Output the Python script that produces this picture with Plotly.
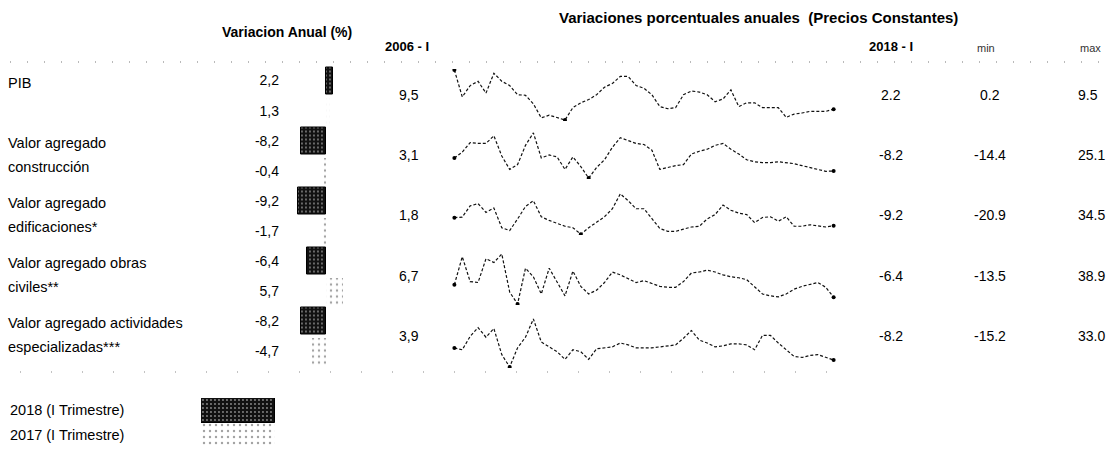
import plotly.graph_objects as go

W, H = 1109, 458


def px(x):
    return x / W


def py(y):
    return 1 - y / H


# ---------------- data ----------------
categories = [
    "PIB",
    "Valor agregado construcción",
    "Valor agregado edificaciones*",
    "Valor agregado obras civiles**",
    "Valor agregado actividades especializadas***",
]
label_lines = [
    ["PIB"],
    ["Valor agregado", "construcción"],
    ["Valor agregado", "edificaciones*"],
    ["Valor agregado obras", "civiles**"],
    ["Valor agregado actividades", "especializadas***"],
]
var_2018 = [2.2, -8.2, -9.2, -6.4, -8.2]
var_2017 = [1.3, -0.4, -1.7, 5.7, -4.7]
legend_labels = ["2018 (I Trimestre)", "2017 (I Trimestre)"]
legend_len = [1, 1]

quarters = [f"{yr}-{q}" for yr in range(2006, 2019) for q in ["I", "II", "III", "IV"]][:49]

pib = [9.5, 4.5, 6.6, 7.4, 5.2, 8.9, 7.4, 6.6, 4.9, 4.8, 3.2, 0.6, 1.1, 0.6, 0.2, 2.5,
       3.4, 4.0, 4.9, 6.3, 7.0, 8.3, 8.3, 6.6, 6.1, 4.9, 2.7, 2.3, 2.5, 4.9, 5.6, 5.4,
       4.9, 3.6, 4.1, 5.8, 2.7, 3.4, 3.4, 2.5, 2.5, 2.5, 0.7, 1.3, 1.5, 1.8, 1.8, 1.8, 2.2]
construccion = [3.1, 8.3, 16.7, 15.9, 15.9, 22.6, 4.9, -6.8, -2.6, 14.2, 25.1, 3.3, 5.8, 4.1,
                -6.8, 4.1, -4.3, -14.4, -5.1, 1.6, 12.5, 20.9, 18.4, 15.9, 15.0, 10.0, -6.8,
                -5.1, -3.5, -2.6, 6.6, 9.1, 10.8, 14.2, 15.9, 10.8, 6.6, 1.6, -0.1, -0.9,
                -0.9, -0.1, -0.9, -1.8, -3.5, -5.1, -6.8, -8.5, -8.2]
edificaciones = [1.8, 2.5, 18, 21, 9, 15, -12, -16, 0, 17, 25, 3, -2, -6, -10, -12, -20.9,
                 -12, -5, 3, 14, 34.5, 25, 14, 14, 1, -13, -17, -17, -14, -11, -10, 0, 6,
                 19, 12, 8, 6, -5, 2, 3, -3, 3, -10, -10, -8, -10, -11, -9.2]
obras_civiles = [6.7, 36, 10, 9, 34, 30, 38.9, -1, -13.5, 24, 15, -3, 24, 9, -5, 21, 5, -3,
                 1, 9, 20, 17, 13, 9, 11, 8, 5, 4, 4, 10, 19, 20, 22, 20, 17, 15, 14, 12, 5,
                 -3, -5, -6, -3, 2, 5, 7, 9, 4, -6.4]
actividades = [3.9, 2.1, 15.6, 24.3, 14.7, 23.4, -2.7, -15.2, 4.1, 14.7, 33, 9.9, 5, 0.2,
               -7.5, 2.1, 0.2, -7.5, 3.1, 4.1, 5, 8.9, 7, 4.1, 4.1, 4.1, 5, 6, 7, 13.7, 21.4,
               11.8, 8.9, 5, 6, 8, 8, 7, 2.1, 16.6, 16.6, 8.9, 2.1, -4.6, -5.6, -3.6, -2.7,
               -5.6, -8.2]
series = [pib, construccion, edificaciones, obras_civiles, actividades]

# ---------------- layout constants ----------------
FONT = "Liberation Sans, Arial, sans-serif"
slot_top, slot_pitch = 65.5, 30.1
spark_rows_px = [(69, 121), (132, 179), (193, 235), (253, 305), (318, 368)]
text_y_px = [95, 155, 215, 276, 336]
spark_x_px = (452, 836)
col_2006_x, col_2018_x, col_min_x, col_max_x = 409, 891, 990, 1076
LABEL_SIZE = 14.5
NUM_SIZE = 14


def comma(v):
    return f"{v:.1f}".replace(".", ",")


fig = go.Figure()

# ---------------- bars ----------------
slots = []
for c in categories:
    slots += [c + " | 2018", c + " | 2017"]
slot_text = []
for a, b in zip(var_2018, var_2017):
    slot_text += [comma(a), comma(b)]

dark_marker = dict(color="#111", line=dict(color="#000", width=1),
                   pattern=dict(shape=".", bgcolor="#111", fgcolor="#ffffff", size=4, solidity=0.18))
light_marker = dict(color="#fff", line=dict(width=0),
                    pattern=dict(shape=".", bgcolor="#ffffff", fgcolor="#444", size=6, solidity=0.12))

fig.add_trace(go.Bar(
    x=var_2018, y=[c + " | 2018" for c in categories], orientation="h",
    xaxis="x", yaxis="y", width=0.9, showlegend=False, hoverinfo="x", marker=dark_marker,
))
fig.add_trace(go.Bar(
    x=var_2017, y=[c + " | 2017" for c in categories], orientation="h",
    xaxis="x", yaxis="y", width=0.9, showlegend=False, hoverinfo="x", marker=light_marker,
))

# legend swatches
fig.add_trace(go.Bar(
    x=[legend_len[0]], y=[legend_labels[0]], orientation="h", xaxis="x2", yaxis="y2",
    width=1, showlegend=False, hoverinfo="skip", marker=dark_marker,
))
fig.add_trace(go.Bar(
    x=[legend_len[1]], y=[legend_labels[1]], orientation="h", xaxis="x2", yaxis="y2",
    width=1, showlegend=False, hoverinfo="skip", marker=light_marker,
))

layout_axes = {}
layout_axes["xaxis"] = dict(domain=[px(280), px(356)], range=[-15.3, 10], visible=False,
                            anchor="y", fixedrange=True)
layout_axes["yaxis"] = dict(
    domain=[py(slot_top + 10 * slot_pitch), py(slot_top)], type="category",
    categoryorder="array", categoryarray=slots, autorange="reversed",
    tickmode="array", tickvals=slots, ticktext=slot_text, ticks="",
    showgrid=False, showline=False, zeroline=False, anchor="x",
    tickfont=dict(family=FONT, size=NUM_SIZE, color="#000"), fixedrange=True,
)
layout_axes["xaxis2"] = dict(domain=[px(201), px(275)], range=[0, 1], visible=False,
                             anchor="y2", fixedrange=True)
layout_axes["yaxis2"] = dict(domain=[py(447), py(398)], type="category",
                             categoryorder="array", categoryarray=legend_labels,
                             autorange="reversed", visible=False, anchor="x2", fixedrange=True)

annotations = []
lab_font = dict(family=FONT, size=LABEL_SIZE, color="#000")

# row labels
for c, lines in zip(categories, label_lines):
    for line, yr, shift in zip(lines, ["2018", "2017"], [-2, 4]):
        annotations.append(dict(text=line, xref="paper", x=px(6), xanchor="left",
                                yref="y", y=c + " | " + yr, yanchor="middle", yshift=shift,
                                showarrow=False, font=lab_font))

# legend labels
for lab in legend_labels:
    annotations.append(dict(text=lab, xref="paper", x=px(8), xanchor="left",
                            yref="y2", y=lab, yanchor="middle", showarrow=False,
                            font=lab_font))

# ---------------- sparklines ----------------
num_font = dict(family=FONT, size=NUM_SIZE, color="#000")
for i, s in enumerate(series):
    k = i + 3
    xa, ya = f"x{k}", f"y{k}"
    top, bot = spark_rows_px[i]
    lo, hi = min(s), max(s)
    fig.add_trace(go.Scatter(
        x=quarters, y=s, mode="lines", xaxis=xa, yaxis=ya, showlegend=False,
        line=dict(color="#111", width=1.2, dash="3px,2px"), hoverinfo="x+y",
    ))
    imin = s.index(lo)
    mk_idx = [0, imin, len(s) - 1]
    fig.add_trace(go.Scatter(
        x=[quarters[j] for j in mk_idx], y=[s[j] for j in mk_idx], mode="markers",
        xaxis=xa, yaxis=ya, showlegend=False, hoverinfo="skip",
        marker=dict(color="#000", size=4),
    ))
    pad = (hi - lo) * 0.02
    layout_axes[f"xaxis{k}"] = dict(domain=[px(spark_x_px[0]), px(spark_x_px[1])],
                                    anchor=ya, visible=False, fixedrange=True,
                                    range=[-0.3, len(s) - 0.7])
    layout_axes[f"yaxis{k}"] = dict(domain=[py(bot), py(top)], anchor=xa, visible=False,
                                    range=[lo - pad, hi + pad], fixedrange=True)

    ty = py(text_y_px[i])
    annotations += [
        dict(text=comma(s[0]), xref="paper", x=px(col_2006_x), xanchor="center",
             yref="paper", y=ty, yanchor="middle", showarrow=False, font=num_font),
        dict(text=f"{s[-1]:.1f}", xref="paper", x=px(col_2018_x), xanchor="center",
             yref="paper", y=ty, yanchor="middle", showarrow=False, font=num_font),
        dict(text=f"{lo:.1f}", xref="paper", x=px(col_min_x), xanchor="center",
             yref="paper", y=ty, yanchor="middle", showarrow=False, font=num_font),
        dict(text=f"{hi:.1f}", xref="paper", x=px(col_max_x), xanchor="left",
             yref="paper", y=ty, yanchor="middle", showarrow=False, font=num_font),
    ]

# headers
annotations += [
    dict(text="<b>Variacion Anual (%)</b>", xref="paper", x=px(287), xanchor="center",
         yref="paper", y=py(32), yanchor="middle", showarrow=False,
         font=dict(family=FONT, size=14, color="#000")),
    dict(text="<b>Variaciones porcentuales anuales  (Precios Constantes)</b>", xref="paper",
         x=px(758), xanchor="center", yref="paper", y=py(17), yanchor="middle",
         showarrow=False, font=dict(family=FONT, size=15, color="#000")),
    dict(text="<b>2006 - I</b>", xref="paper", x=px(407), xanchor="center",
         yref="paper", y=py(47), yanchor="middle", showarrow=False,
         font=dict(family=FONT, size=13, color="#000")),
    dict(text="<b>2018 - I</b>", xref="paper", x=px(891), xanchor="center",
         yref="paper", y=py(47), yanchor="middle", showarrow=False,
         font=dict(family=FONT, size=13, color="#000")),
    dict(text="min", xref="paper", x=px(986), xanchor="center",
         yref="paper", y=py(48), yanchor="middle", showarrow=False,
         font=dict(family=FONT, size=11, color="#333")),
    dict(text="max", xref="paper", x=px(1078), xanchor="left",
         yref="paper", y=py(48), yanchor="middle", showarrow=False,
         font=dict(family=FONT, size=11, color="#333")),
]

shapes = [
    dict(type="line", xref="paper", yref="paper", x0=px(10), x1=px(1100), y0=py(62), y1=py(62),
         line=dict(color="#777", width=1.2, dash="1px,16px")),
    dict(type="line", xref="paper", yref="paper", x0=px(20), x1=px(840), y0=py(372), y1=py(372),
         line=dict(color="#888", width=1.2, dash="1px,30px")),
]

fig.update_layout(
    width=W, height=H, margin=dict(l=0, r=0, t=0, b=0),
    paper_bgcolor="white", plot_bgcolor="white",
    barmode="overlay", bargap=0,
    font=dict(family=FONT, size=13, color="#000"),
    annotations=annotations, shapes=shapes, showlegend=False,
    **layout_axes,
)

fig.write_html(
    "out.html",
    config={"displayModeBar": False},
    post_script="document.body.style.margin='0';document.body.style.overflow='hidden';",
)
